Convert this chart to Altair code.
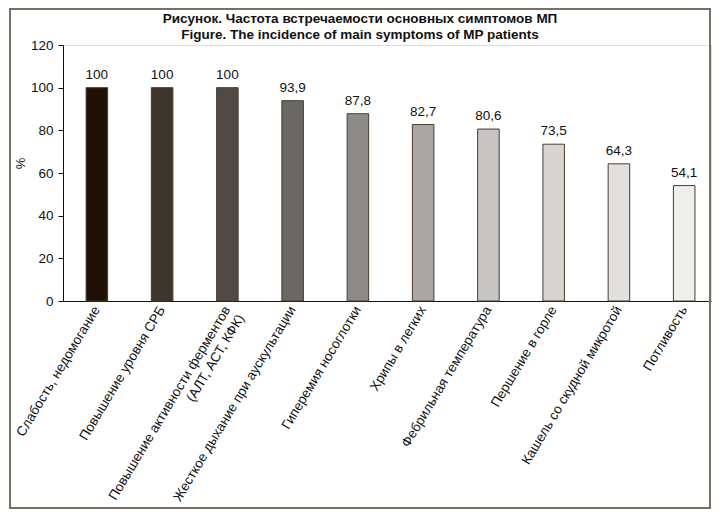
import altair as alt
import pandas as pd

categories = [
    "Слабость, недомогание",
    "Повышение уровня СРБ",
    "Повышение активности ферментов|(АЛТ, АСТ, КФК)",
    "Жесткое дыхание при аускультации",
    "Гиперемия носоглотки",
    "Хрипы в легких",
    "Фебрильная температура",
    "Першение в горле",
    "Кашель со скудной микротой",
    "Потливость",
]
values = [100, 100, 100, 93.9, 87.8, 82.7, 80.6, 73.5, 64.3, 54.1]
value_labels = ["100", "100", "100", "93,9", "87,8", "82,7", "80,6", "73,5", "64,3", "54,1"]
bar_colors = ["#211006", "#3d342b", "#4f4a45", "#6b6764", "#8d8b89",
              "#a9a8a6", "#c6c5c4", "#d6d5d4", "#e1e0df", "#efefee"]
y_ticks = [0, 20, 40, 60, 80, 100, 120]
title_lines = ["Рисунок. Частота встречаемости основных симптомов МП",
               "Figure. The incidence of main symptoms of MP patients"]

df = pd.DataFrame({"cat": categories, "val": values, "lbl": value_labels})

FONT = "Liberation Sans"
W, H = 648, 256

x_enc = alt.X(
    "cat:N", sort=categories, title=None,
    scale=alt.Scale(paddingInner=0.67, paddingOuter=0.3, align=0.59),
    axis=alt.Axis(
        labelAngle=-59, labelAlign="right", labelBaseline="middle",
        labelExpr="split(datum.value, '|')", labelFontSize=13.5, labelFont=FONT,
        labelColor="#111", ticks=False, domainColor="#111", domainWidth=1,
        labelPadding=6, labelLimit=400, labelLineHeight=16,
    ),
)

bars = alt.Chart(df).mark_bar(stroke="#4a3c2e", strokeWidth=1).encode(
    x=x_enc,
    y=alt.Y(
        "val:Q", title="%",
        scale=alt.Scale(domain=[0, 120], nice=False),
        axis=alt.Axis(
            values=y_ticks, grid=False, tickSize=5, tickColor="#111",
            domainColor="#111", labelFontSize=13.5, labelFont=FONT,
            labelColor="#111", labelPadding=5, titleFont=FONT,
            titleFontSize=13, titleFontWeight="normal", titleColor="#111",
            titleX=-36, titleY=118,
        ),
    ),
    color=alt.Color("cat:N", sort=categories,
                    scale=alt.Scale(domain=categories, range=bar_colors),
                    legend=None),
)

text = alt.Chart(df).mark_text(
    dy=-13, fontSize=13.5, font=FONT, color="#111"
).encode(
    x=alt.X("cat:N", sort=categories),
    y="val:Q",
    text="lbl:N",
)

frame_df = pd.DataFrame({"k": [0]})
frame = alt.Chart(frame_df).mark_rect(
    fill=None, stroke="#7a6f62", strokeWidth=2
).encode(
    x=alt.value(-53), x2=alt.value(W - 1),
    y=alt.value(-36), y2=alt.value(463),
)

title_mark = alt.Chart(frame_df).mark_text(
    text=title_lines, font=FONT, fontSize=13.5, fontWeight="bold",
    color="#111", align="center", baseline="top", lineHeight=16,
).encode(
    x=alt.value(297), y=alt.value(-33),
)

chart = alt.layer(frame, bars, text, title_mark).properties(
    width=W, height=H,
    autosize=alt.AutoSizeParams(type="none"),
    padding={"left": 55, "top": 37, "right": 1, "bottom": 208},
).configure_view(stroke=None).configure(background="white")

chart.save("out.html", embed_options={"renderer": "svg", "actions": False})
